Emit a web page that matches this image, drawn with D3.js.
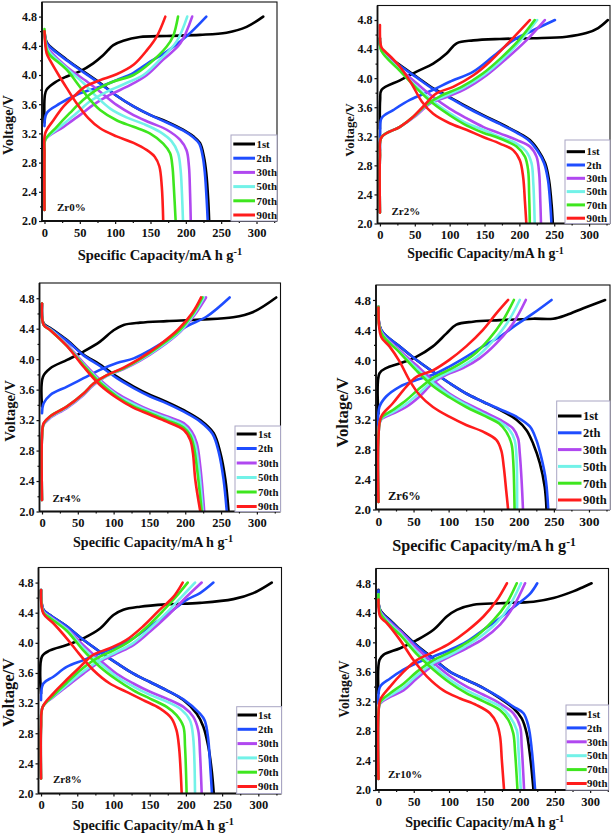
<!DOCTYPE html>
<html><head><meta charset="utf-8">
<script src="https://cdn.jsdelivr.net/npm/d3@7"></script>
<style>html,body{margin:0;padding:0;background:#fff;}svg{display:block;}</style>
</head><body>
<svg id="c" width="614" height="835"></svg>
<script>
// ---------------- data ----------------
const cycles = ["1st", "2th", "30th", "50th", "70th", "90th"];
const panelLabels = ["Zr0%", "Zr2%", "Zr4%", "Zr6%", "Zr8%", "Zr10%"];
const xTicks = [0, 50, 100, 150, 200, 250, 300];
const xMinorTicks = [25, 75, 125, 175, 225, 275, 325];
const yTicks = [2.0, 2.4, 2.8, 3.2, 3.6, 4.0, 4.4, 4.8];
const yMinorTicks = [2.2, 2.6, 3.0, 3.4, 3.8, 4.2, 4.6];
const xTitle = "Specific Capacity/mA h g";
const xTitleSup = "-1";
const yTitle = "Voltage/V";

// [capacity mAh/g, voltage V]
const zr0Charge = [
 [[0,3.35],[0.5,3.72],[3,3.8],[15,3.9],[31.6,3.98],[50,4.05],[69,4.16],[83,4.27],[97.5,4.41],[111.6,4.47],[135,4.52],[173,4.535],[220,4.55],[257.6,4.58],[286,4.66],[309.5,4.8]],
 [[0,3.3],[3.3,3.48],[22,3.61],[45.7,3.73],[78.7,3.84],[102,3.93],[126,4.03],[149,4.18],[173,4.32],[201,4.53],[229,4.8]],
 [[0,2.15],[0,2.95],[1,3.11],[27,3.29],[50,3.45],[69,3.59],[93,3.73],[121,3.86],[145,4.0],[168,4.21],[192,4.43],[209,4.8]],
 [[0,2.15],[0,2.95],[1,3.11],[22,3.29],[45.7,3.48],[64.5,3.64],[88,3.77],[116,3.89],[140,4.0],[163.4,4.21],[187,4.46],[202,4.8]],
 [[0,2.15],[0,2.95],[1,3.11],[17.4,3.29],[36,3.48],[55,3.66],[74,3.8],[97.5,3.91],[126,4.0],[149,4.16],[173,4.39],[182,4.53],[189,4.8]],
 [[0,2.15],[0,2.9],[1,3.2],[12.7,3.38],[27,3.57],[41,3.7],[57.5,3.84],[78.7,3.93],[102,4.01],[126,4.14],[145,4.34],[159,4.53],[171,4.8]]
];
const zr0Discharge = [
 [[0,4.6],[3,4.45],[8,4.39],[31.6,4.21],[55,4.05],[78.7,3.89],[100,3.73],[126,3.57],[150,3.45],[173,3.36],[196,3.25],[210.5,3.16],[220,3.07],[225.6,2.88],[229,2.65],[231.7,2.29],[233,2.0]],
 [[0,4.55],[3,4.44],[8,4.38],[31.6,4.2],[55,4.04],[78.7,3.88],[100,3.73],[126,3.57],[150,3.45],[173,3.35],[196,3.24],[210,3.15],[219,3.06],[224,2.88],[227,2.65],[229.5,2.29],[231,2.0]],
 [[0,4.6],[3,4.4],[8,4.33],[31.6,4.11],[60,3.91],[78.7,3.77],[102,3.59],[126,3.45],[149,3.35],[173,3.25],[192,3.11],[201,2.97],[204.4,2.75],[206,2.38],[207,2.0]],
 [[0,4.6],[3,4.38],[8,4.3],[31.6,4.09],[55,3.89],[74,3.7],[93,3.54],[116,3.42],[140,3.33],[163.4,3.22],[180,3.09],[189,2.93],[192.6,2.7],[194.5,2.38],[196,2.0]],
 [[0,4.63],[3.3,4.34],[8,4.27],[31.6,4.07],[50,3.84],[64.5,3.66],[78.7,3.52],[102,3.38],[126,3.29],[149,3.2],[168,3.06],[177.6,2.93],[181,2.75],[183,2.47],[185.6,2.0]],
 [[0,4.6],[3,4.3],[8,4.2],[20,4.0],[31.6,3.82],[45.7,3.61],[62,3.41],[78.7,3.27],[102,3.16],[126,3.07],[145,2.97],[156,2.88],[162.5,2.75],[166,2.47],[168,2.0]]
];

const zr2Charge = [
 [[0,3.3],[0.3,3.7],[2.4,3.84],[28.7,3.97],[52.6,4.09],[76.4,4.2],[95.6,4.34],[110,4.48],[134,4.52],[172,4.54],[220,4.55],[267.6,4.57],[296,4.62],[313,4.69],[327,4.8]],
 [[0,3.0],[0.3,3.24],[2.4,3.45],[19,3.56],[43,3.7],[76.4,3.84],[100,3.95],[134,4.09],[162.4,4.3],[191,4.52],[220,4.66],[251,4.8]],
 [[0,2.15],[0,2.92],[2.4,3.19],[28.7,3.33],[52.6,3.49],[71.7,3.65],[95.6,3.74],[124,3.86],[153,4.04],[181.6,4.27],[210,4.52],[236.5,4.8]],
 [[0,2.15],[0,2.92],[2.4,3.19],[28.7,3.33],[50,3.48],[68,3.64],[92,3.75],[120,3.87],[150,4.05],[178,4.28],[202,4.52],[225.5,4.8]],
 [[0,2.15],[0,2.92],[2.4,3.19],[28.7,3.33],[49,3.48],[66,3.63],[88,3.76],[117,3.88],[147,4.06],[175,4.29],[199,4.52],[222,4.8]],
 [[0,2.15],[0,2.92],[2.4,3.19],[28.7,3.33],[47.8,3.47],[62,3.61],[81,3.79],[105,3.88],[134,4.04],[158,4.23],[181.6,4.46],[215,4.8]]
];
const zr2Discharge = [
 [[0,4.55],[2.4,4.39],[28.7,4.18],[52.6,4.02],[76.4,3.86],[100,3.74],[124,3.61],[148,3.49],[172,3.38],[196,3.26],[215,3.15],[227,3.01],[237,2.83],[242.5,2.6],[246.5,2.23],[248,2.0]],
 [[0,4.5],[2.4,4.38],[28.7,4.17],[52.6,4.01],[76.4,3.85],[100,3.73],[124,3.6],[148,3.48],[172,3.37],[196,3.25],[214,3.14],[226,3.0],[235.5,2.83],[241,2.6],[244.6,2.23],[246,2.0]],
 [[0,4.55],[2.4,4.39],[28.7,4.13],[52.6,3.93],[76.4,3.74],[100,3.58],[124,3.45],[148,3.33],[172,3.24],[196,3.15],[215,3.06],[224.6,2.92],[228.4,2.69],[230,2.32],[231,2.0]],
 [[0,4.55],[2.4,4.38],[28.7,4.11],[52.6,3.88],[76.4,3.68],[100,3.52],[124,3.38],[148,3.29],[172,3.19],[196,3.1],[210,2.99],[217.4,2.83],[220,2.55],[222,2.0]],
 [[0,4.55],[2.4,4.37],[28.7,4.1],[52.6,3.86],[76.4,3.65],[100,3.49],[124,3.35],[148,3.25],[172,3.17],[196,3.06],[208,2.92],[212.6,2.73],[214,2.4],[215,2.0]],
 [[0,4.73],[0.5,4.5],[2.4,4.42],[15,4.3],[30,4.14],[45,3.93],[60,3.68],[76.4,3.51],[100,3.38],[124,3.29],[148,3.19],[172,3.1],[191,3.01],[200.7,2.87],[205.4,2.64],[208,2.3],[210,2.0]]
];

const zr4Charge = [
 [[0,3.38],[1.4,3.77],[11.6,3.88],[35,3.99],[58,4.1],[81,4.23],[100,4.38],[114,4.45],[137,4.48],[174,4.5],[221,4.52],[267,4.55],[295,4.62],[327,4.81]],
 [[0,3.29],[2.3,3.42],[11.6,3.53],[35,3.64],[58,3.75],[81,3.86],[104.6,3.95],[128,4.01],[151,4.12],[174,4.25],[202,4.43],[230,4.56],[262,4.81]],
 [[0,2.15],[0,2.98],[2.3,3.14],[11.6,3.23],[35,3.36],[58,3.53],[72,3.66],[90.7,3.78],[114,3.87],[137,3.98],[165,4.15],[193,4.36],[213,4.58],[229,4.81]],
 [[0,2.15],[0,2.98],[2.3,3.15],[11.6,3.24],[35,3.37],[58,3.54],[72,3.67],[90.7,3.78],[114,3.88],[137,3.99],[165,4.16],[193,4.37],[212,4.59],[226,4.81]],
 [[0,2.15],[0,2.98],[2.3,3.15],[11.6,3.25],[35,3.38],[58,3.55],[72,3.68],[90.7,3.79],[114,3.88],[137,4.0],[164,4.17],[192,4.38],[211,4.6],[224,4.81]],
 [[0,2.15],[0,2.98],[2.3,3.16],[11.6,3.25],[35,3.38],[58,3.55],[72,3.68],[90.7,3.79],[114,3.89],[137,4.01],[163,4.18],[190,4.39],[210,4.61],[222,4.81]]
];
const zr4Discharge = [
 [[0,4.73],[2.3,4.47],[11.6,4.41],[35,4.25],[58,4.06],[81,3.93],[104.6,3.77],[128,3.64],[151,3.53],[174,3.44],[198,3.33],[221,3.2],[239.5,3.03],[249,2.77],[256,2.42],[260.5,2.0]],
 [[0,4.7],[2.3,4.46],[11.6,4.4],[35,4.24],[58,4.05],[81,3.91],[104.6,3.75],[128,3.62],[151,3.51],[174,3.42],[198,3.31],[221,3.18],[238,3.02],[247,2.77],[253.5,2.42],[258,2.0]],
 [[0,4.73],[2.3,4.45],[11.6,4.39],[35,4.19],[58,3.95],[81,3.73],[104.6,3.55],[128,3.43],[151,3.33],[174,3.25],[198,3.16],[209,3.05],[216,2.9],[221,2.59],[226.5,2.0]],
 [[0,4.73],[2.3,4.45],[11.6,4.39],[35,4.18],[58,3.93],[81,3.71],[104.6,3.53],[128,3.41],[151,3.31],[174,3.23],[198,3.13],[208,3.02],[214,2.88],[219,2.57],[224.5,2.0]],
 [[0,4.73],[2.3,4.45],[11.6,4.38],[35,4.17],[58,3.92],[81,3.69],[104.6,3.51],[128,3.38],[151,3.29],[174,3.2],[198,3.1],[207,3.0],[212,2.85],[217,2.52],[223,2.0]],
 [[0,4.73],[2.3,4.45],[11.6,4.38],[35,4.17],[58,3.9],[81,3.66],[104.6,3.49],[128,3.36],[151,3.27],[174,3.18],[198,3.07],[207,2.94],[210.7,2.77],[214,2.42],[221,2.0]]
];

const zr6Charge = [
 [[0,3.28],[1.4,3.82],[11,3.89],[30,3.95],[53.8,4.04],[77.6,4.18],[96.7,4.35],[111,4.47],[134.8,4.51],[172.9,4.53],[220.5,4.55],[249,4.55],[268,4.6],[292,4.69],[323,4.8]],
 [[0,3.02],[1.4,3.37],[11,3.51],[30,3.64],[53.8,3.73],[77.6,3.8],[101,3.91],[125,4.04],[149,4.18],[173,4.31],[196.7,4.47],[220.5,4.62],[246.7,4.8]],
 [[0,2.1],[0,2.97],[3.8,3.2],[20.5,3.28],[39.5,3.37],[58.6,3.51],[77.6,3.69],[96.7,3.8],[120.5,3.89],[144,4.02],[168,4.22],[192,4.49],[210,4.8]],
 [[0,2.1],[0,2.97],[3.8,3.21],[20.5,3.3],[39.5,3.41],[58.6,3.56],[77.6,3.72],[96.7,3.82],[118,3.91],[140,4.04],[162,4.24],[184,4.5],[201.4,4.8]],
 [[0,2.1],[0,2.97],[3.8,3.22],[20.5,3.33],[39.5,3.46],[58.6,3.62],[77.6,3.76],[96.7,3.85],[115,3.94],[136,4.07],[157,4.27],[177,4.52],[193,4.8]],
 [[0,2.1],[0,2.97],[3.8,3.24],[20.5,3.42],[39.5,3.64],[53.8,3.77],[77.6,3.86],[101,4.0],[125,4.18],[149,4.4],[168,4.62],[184.8,4.8]]
];
const zr6Discharge = [
 [[0,4.71],[3.8,4.4],[30,4.18],[53.8,4.0],[77.6,3.84],[101,3.69],[125,3.55],[149,3.44],[173,3.33],[196.7,3.2],[211,3.06],[220.5,2.88],[230,2.62],[237,2.3],[239.5,2.0]],
 [[0,4.7],[3.8,4.4],[30,4.18],[53.8,4.0],[77.6,3.84],[101,3.69],[125,3.55],[149,3.44],[173,3.34],[196.7,3.24],[215.7,3.11],[225,2.93],[232,2.7],[238.6,2.39],[242,2.0]],
 [[0,4.71],[3.8,4.38],[30,4.13],[53.8,3.93],[77.6,3.73],[101,3.55],[125,3.42],[149,3.31],[173,3.2],[192,3.08],[199,2.95],[201.4,2.75],[204,2.39],[206,2.0]],
 [[0,4.71],[3.8,4.37],[30,4.11],[53.8,3.89],[77.6,3.69],[101,3.53],[125,3.4],[149,3.28],[173,3.17],[187,3.06],[194,2.93],[196.7,2.7],[197.6,2.0]],
 [[0,4.71],[3.8,4.36],[30,4.1],[53.8,3.86],[77.6,3.65],[101,3.5],[125,3.37],[149,3.26],[172,3.15],[182,3.04],[189.5,2.88],[192,2.66],[194,2.0]],
 [[0,4.7],[3.8,4.31],[15.7,4.18],[30,3.98],[44,3.73],[58.6,3.53],[77.6,3.37],[101,3.24],[125,3.13],[149,3.04],[168,2.93],[175,2.79],[178.6,2.57],[182,2.26],[184.8,2.0]]
];

const zr8Charge = [
 [[0,3.33],[1.4,3.82],[12.4,3.9],[35.4,3.97],[58.4,4.06],[81.5,4.19],[100,4.37],[113.7,4.44],[136.7,4.48],[173.5,4.51],[219.5,4.53],[265.5,4.58],[293,4.66],[318.5,4.8]],
 [[0,3.24],[3.2,3.46],[17,3.55],[35.4,3.68],[58.4,3.77],[81.5,3.86],[104.5,3.95],[127.5,4.06],[150.5,4.22],[173.5,4.37],[201,4.57],[219.5,4.66],[238,4.8]],
 [[0,2.2],[0,2.89],[2.3,3.15],[17,3.28],[35.4,3.42],[58.4,3.59],[81.5,3.75],[104.5,3.86],[127.5,3.97],[150.5,4.15],[173.5,4.35],[196.5,4.57],[221.8,4.8]],
 [[0,2.2],[0,2.89],[2.3,3.15],[17,3.29],[35.4,3.44],[58.4,3.62],[81.5,3.77],[104.5,3.88],[127.5,4.0],[150.5,4.19],[173.5,4.4],[193,4.6],[212.6,4.8]],
 [[0,2.2],[0,2.89],[2.3,3.15],[17,3.3],[35.4,3.47],[56,3.65],[78,3.8],[100,3.9],[122,4.02],[145,4.2],[168,4.42],[187,4.62],[202.5,4.8]],
 [[0,2.2],[0,2.89],[2.3,3.15],[17,3.33],[35.4,3.51],[53.8,3.68],[72,3.84],[95,3.93],[118,4.04],[141,4.22],[164,4.44],[182.7,4.61],[195.6,4.8]]
];
const zr8Discharge = [
 [[0,4.7],[3.2,4.44],[12.4,4.37],[35.4,4.22],[58.4,4.04],[81.5,3.88],[104.5,3.73],[127.5,3.59],[150.5,3.48],[173.5,3.37],[196.5,3.24],[215,3.06],[224,2.89],[231,2.62],[235.6,2.31],[238.5,2.0]],
 [[0,4.7],[3.2,4.44],[12.4,4.37],[35.4,4.22],[58.4,4.04],[81.5,3.88],[104.5,3.73],[127.5,3.59],[150.5,3.48],[173.5,3.37],[196.5,3.25],[219.5,3.06],[226,2.97],[230.5,2.75],[233.7,2.35],[236,2.0]],
 [[0,4.7],[3.2,4.42],[12.4,4.35],[35.4,4.19],[58.4,3.97],[81.5,3.77],[104.5,3.59],[127.5,3.46],[150.5,3.35],[173.5,3.26],[196.5,3.15],[210,3.02],[217,2.84],[219.5,2.53],[221.8,2.0]],
 [[0,4.7],[3.2,4.41],[12.4,4.34],[35.4,4.18],[58.4,3.93],[81.5,3.73],[104.5,3.55],[127.5,3.42],[150.5,3.31],[173.5,3.22],[194,3.11],[205.7,2.97],[210,2.75],[212.6,2.0]],
 [[0,4.7],[3.2,4.4],[12.4,4.33],[35.4,4.16],[58.4,3.9],[81.5,3.68],[104.5,3.51],[127.5,3.37],[150.5,3.26],[173.5,3.15],[187,3.04],[196.5,2.89],[198.8,2.62],[201,2.0]],
 [[0,4.7],[3.2,4.39],[17,4.26],[35.4,4.06],[53.8,3.84],[72,3.64],[95,3.46],[118,3.35],[141,3.24],[164,3.13],[180,3.0],[187,2.84],[190.5,2.62],[194.2,2.0]]
];

const zr10Charge = [
 [[0,3.31],[1.4,3.76],[7,3.83],[30.7,3.92],[54.3,4.03],[78,4.17],[96.8,4.35],[111,4.44],[134.6,4.51],[172.4,4.53],[219.7,4.55],[248,4.6],[276,4.69],[290.5,4.75],[302,4.8]],
 [[0,3.17],[2.4,3.4],[16.5,3.51],[35.4,3.63],[54.3,3.72],[78,3.81],[101.6,3.9],[125,4.01],[148.8,4.17],[172.4,4.33],[196,4.51],[215,4.66],[225,4.8]],
 [[0,2.15],[0,3.04],[2.4,3.17],[16.5,3.26],[35.4,3.35],[54.3,3.51],[78,3.69],[101.6,3.81],[125,3.92],[148.8,4.05],[172.4,4.24],[191,4.48],[207.8,4.8]],
 [[0,2.15],[0,3.04],[2.4,3.18],[16.5,3.28],[35.4,3.39],[54.3,3.55],[78,3.72],[101.6,3.83],[122,3.94],[145,4.08],[168,4.27],[186,4.5],[202,4.8]],
 [[0,2.15],[0,3.04],[2.4,3.19],[16.5,3.31],[35.4,3.44],[54.3,3.6],[76,3.75],[98,3.85],[119,3.96],[141,4.1],[163,4.3],[181,4.52],[196,4.8]],
 [[0,2.15],[0,3.04],[2.4,3.22],[16.5,3.4],[35.4,3.6],[54.3,3.76],[78,3.87],[101.6,3.99],[125,4.15],[148.8,4.35],[167.7,4.57],[182,4.8]]
];
const zr10Discharge = [
 [[0,4.71],[2.4,4.44],[16.5,4.3],[30.7,4.17],[54.3,3.96],[78,3.78],[101.6,3.6],[125,3.49],[148.8,3.38],[172.4,3.24],[191,3.11],[203,2.97],[210,2.77],[215,2.45],[219.7,2.0]],
 [[0,4.7],[2.4,4.43],[16.5,4.29],[30.7,4.16],[54.3,3.95],[78,3.77],[101.6,3.6],[125,3.49],[148.8,3.38],[172.4,3.25],[191,3.13],[205.5,3.04],[212.6,2.86],[217.3,2.54],[222,2.0]],
 [[0,4.65],[2.4,4.42],[16.5,4.27],[30.7,4.15],[54.3,3.92],[78,3.72],[101.6,3.54],[125,3.4],[148.8,3.29],[172.4,3.17],[191,3.04],[200.7,2.86],[203,2.59],[206.4,2.0]],
 [[0,4.65],[2.4,4.41],[16.5,4.25],[30.7,4.12],[54.3,3.87],[78,3.67],[101.6,3.49],[125,3.35],[148.8,3.24],[172.4,3.13],[186.6,2.99],[196,2.81],[198.4,2.54],[201.7,2.0]],
 [[0,4.65],[2.4,4.4],[16.5,4.23],[30.7,4.1],[54.3,3.84],[78,3.63],[101.6,3.45],[125,3.31],[148.8,3.2],[172.4,3.08],[184,2.95],[191,2.77],[193.7,2.5],[197,2.0]],
 [[0,4.58],[2.4,4.35],[11.8,4.26],[30.7,4.03],[49.6,3.76],[68.5,3.54],[92,3.35],[115.7,3.24],[139,3.15],[158,3.04],[167.7,2.9],[172.4,2.72],[174.8,2.41],[178,2.0]]
];

const chargeSets = [zr0Charge, zr2Charge, zr4Charge, zr6Charge, zr8Charge, zr10Charge];
const dischargeSets = [zr0Discharge, zr2Discharge, zr4Discharge, zr6Discharge, zr8Discharge, zr10Discharge];

// ---------------- styles / layout ----------------
const colors = ["#000000", "#1f4dff", "#b048f0", "#72f2e8", "#3ee61e", "#ff1c1c"];
const FONT = "'Liberation Serif','Times New Roman',serif";
const layout = [
 {x0:42, x1:277, y0:2, y1:221, xMax:329, tickFs:12, xTickFs:12.5,
  yT:{x:12.5, y:125, fs:14.3}, xT:{x:160, y:260, fs:14.5}, zr:{x:57, y:210.5, fs:11},
  leg:{bx:231, by:135, lx0:233.3, lx1:255, tx:256.5, r0:144, dr:14.2, fs:10.8}},
 {x0:377.5, x1:610, y0:5.5, y1:223.5, xMax:330, tickFs:12, xTickFs:12.5,
  yT:{x:354, y:130, fs:12.8}, xT:{x:485.5, y:258, fs:13.8}, zr:{x:391.5, y:214.5, fs:11},
  leg:{bx:565, by:140, lx0:566.7, lx1:585, tx:586.5, r0:151.7, dr:13.3, fs:10.8}},
 {x0:39.5, x1:280.5, y0:283, y1:511.5, xMax:333, tickFs:12, xTickFs:12.5,
  yT:{x:14.5, y:411, fs:14.7}, xT:{x:153, y:546.5, fs:14.1}, zr:{x:52.5, y:501.5, fs:11},
  leg:{bx:235, by:426, lx0:236.7, lx1:256.7, tx:258, r0:434, dr:14.5, fs:10.8}},
 {x0:376, x1:610, y0:285, y1:509.5, xMax:330, tickFs:13, xTickFs:13.5,
  yT:{x:347.5, y:412.5, fs:16.8}, xT:{x:484, y:551, fs:16.2}, zr:{x:388, y:500, fs:12.5},
  leg:{bx:556.7, by:401, lx0:558, lx1:581.5, tx:583, r0:416, dr:16.8, fs:12.5}},
 {x0:38.5, x1:281.5, y0:567.5, y1:793.5, xMax:332, tickFs:12, xTickFs:12.5,
  yT:{x:14, y:692.5, fs:16.5}, xT:{x:153.3, y:830, fs:14.2}, zr:{x:53, y:783, fs:11},
  leg:{bx:236.7, by:706.7, lx0:237.5, lx1:257, tx:258, r0:715, dr:14.3, fs:10.8}},
 {x0:376, x1:608.5, y0:568.5, y1:790, xMax:326, tickFs:12, xTickFs:12.5,
  yT:{x:349, y:689, fs:13.7}, xT:{x:484.7, y:827, fs:14}, zr:{x:388, y:778, fs:11},
  leg:{bx:566, by:705, lx0:566.7, lx1:586.7, tx:587, r0:714, dr:13.9, fs:10.8}}
];

const svg = d3.select("#c");

layout.forEach((L, p) => {
  const x = d3.scaleLinear().domain([-3.5, L.xMax]).range([L.x0, L.x1]);
  const y = d3.scaleLinear().domain([2.0, 5.0]).range([L.y1, L.y0]);
  const g = svg.append("g");

  const clipId = "clip" + p;
  g.append("clipPath").attr("id", clipId).append("rect")
    .attr("x", L.x0).attr("y", L.y0).attr("width", L.x1 - L.x0).attr("height", L.y1 - L.y0);

  const line = d3.line().x(d => x(d[0])).y(d => y(d[1])).curve(d3.curveCatmullRom.alpha(0.5));
  const curves = g.append("g").attr("clip-path", `url(#${clipId})`);
  cycles.forEach((c, i) => {
    [chargeSets[p][i], dischargeSets[p][i]].forEach(pts => {
      curves.append("path").attr("d", line(pts))
        .attr("fill", "none").attr("stroke", colors[i]).attr("stroke-width", 2.6)
        .attr("stroke-linejoin", "round").attr("stroke-linecap", "round");
    });
  });

  // frame
  g.append("rect").attr("x", L.x0).attr("y", L.y0)
    .attr("width", L.x1 - L.x0).attr("height", L.y1 - L.y0)
    .attr("fill", "none").attr("stroke", "#111").attr("stroke-width", 1.1);

  // axes
  const yAx = g.append("g").attr("transform", `translate(${L.x0},0)`)
    .call(d3.axisLeft(y).tickValues(yTicks).tickSize(3).tickPadding(2).tickFormat(d3.format(".1f")));
  const yAxMinor = g.append("g").attr("transform", `translate(${L.x0},0)`)
    .call(d3.axisLeft(y).tickValues(yMinorTicks).tickSize(2).tickFormat(""));
  const xAx = g.append("g").attr("transform", `translate(0,${L.y1})`)
    .call(d3.axisBottom(x).tickValues(xTicks).tickSize(3).tickPadding(4));
  const xAxMinor = g.append("g").attr("transform", `translate(0,${L.y1})`)
    .call(d3.axisBottom(x).tickValues(xMinorTicks.filter(v => v < L.xMax)).tickSize(2).tickFormat(""));
  [yAx, yAxMinor, xAx, xAxMinor].forEach(a => {
    a.select(".domain").remove();
    a.selectAll("line").attr("stroke", "#111").attr("stroke-width", 1.2);
    a.selectAll("text").attr("font-family", FONT).attr("font-weight", "bold")
      .attr("font-size", L.tickFs).attr("fill", "#111");
  });
  xAx.selectAll("text").attr("font-size", L.xTickFs);
  // thicker left & bottom axis lines
  g.append("line").attr("x1", L.x0).attr("x2", L.x0).attr("y1", L.y0).attr("y2", L.y1)
    .attr("stroke", "#111").attr("stroke-width", 1.8);
  g.append("line").attr("x1", L.x0).attr("x2", L.x1).attr("y1", L.y1).attr("y2", L.y1)
    .attr("stroke", "#111").attr("stroke-width", 1.8);

  // legend
  const lg = L.leg;
  g.append("rect").attr("x", lg.bx).attr("y", lg.by)
    .attr("width", L.x1 - lg.bx).attr("height", L.y1 - lg.by)
    .attr("fill", "#fff").attr("stroke", "#a9a6c4").attr("stroke-width", 1);
  cycles.forEach((c, i) => {
    const ry = lg.r0 + lg.dr * i;
    g.append("line").attr("x1", lg.lx0).attr("x2", lg.lx1).attr("y1", ry).attr("y2", ry)
      .attr("stroke", colors[i]).attr("stroke-width", 3);
    g.append("text").attr("x", lg.tx).attr("y", ry).attr("dy", "0.35em")
      .attr("font-family", FONT).attr("font-weight", "bold").attr("font-size", lg.fs)
      .attr("fill", "#111").text(c);
  });

  // sample label
  g.append("text").attr("x", L.zr.x).attr("y", L.zr.y)
    .attr("font-family", FONT).attr("font-weight", "bold").attr("font-size", L.zr.fs)
    .attr("fill", "#111").text(panelLabels[p]);

  // axis titles
  g.append("text").attr("transform", `translate(${L.yT.x},${L.yT.y}) rotate(-90)`)
    .attr("text-anchor", "middle").attr("font-family", FONT).attr("font-weight", "bold")
    .attr("font-size", L.yT.fs).attr("fill", "#111").text(yTitle);
  const xt = g.append("text").attr("x", L.xT.x).attr("y", L.xT.y)
    .attr("text-anchor", "middle").attr("font-family", FONT).attr("font-weight", "bold")
    .attr("font-size", L.xT.fs).attr("fill", "#111");
  xt.append("tspan").text(xTitle);
  xt.append("tspan").attr("dy", "-0.45em").attr("font-size", "0.72em").text(xTitleSup);
});
</script>
</body></html>
